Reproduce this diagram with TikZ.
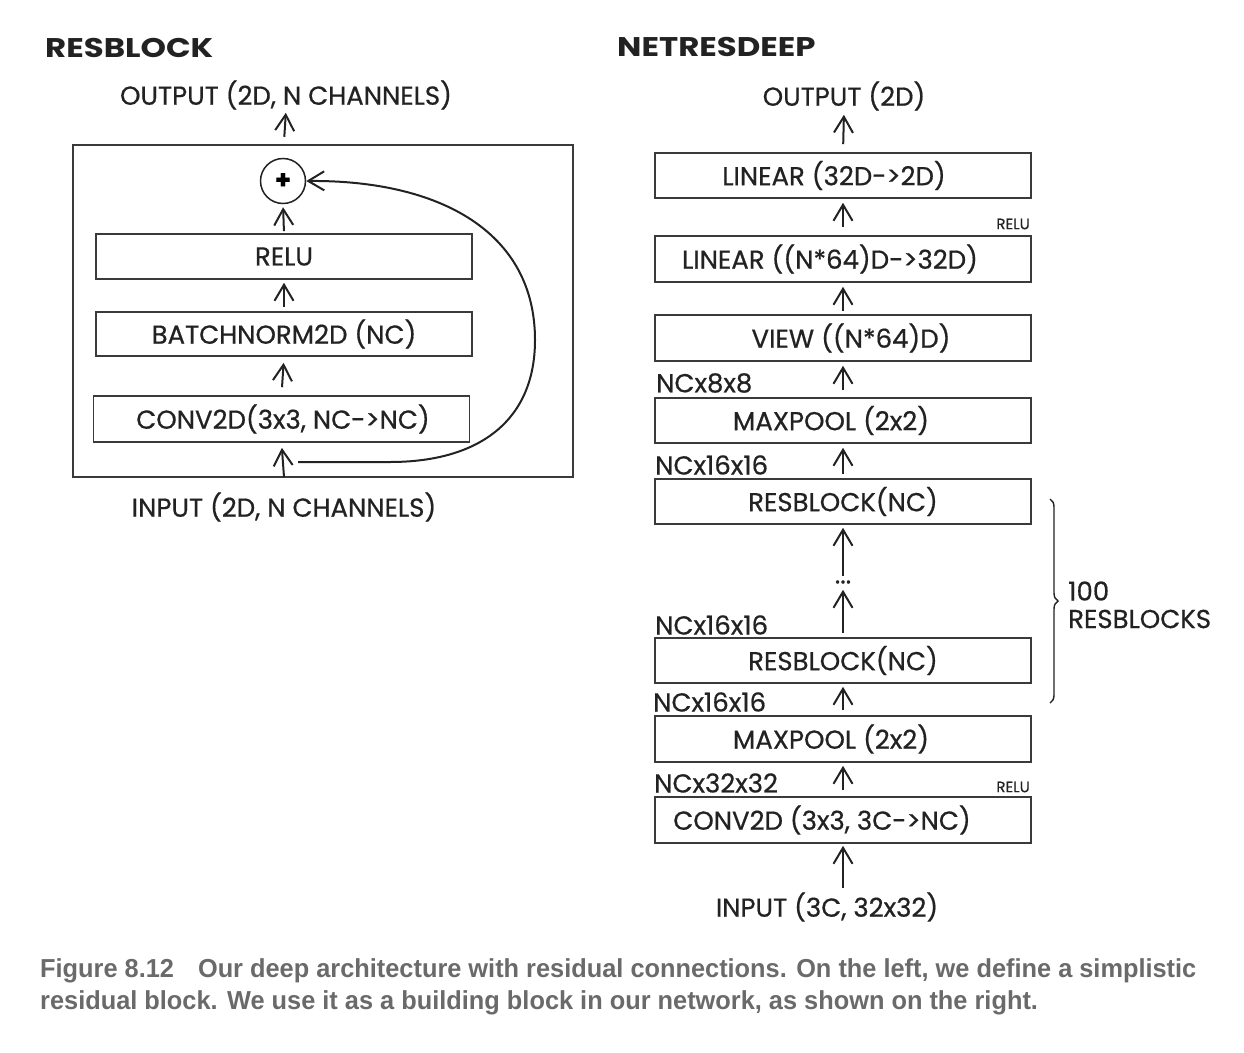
\documentclass[tikz,border=0pt]{standalone}
\usepackage{fontspec}
\setmainfont{Poppins}[FakeBold=0.6]
\newfontfamily\ttlfont[FakeStretch=1.2]{Poppins}
\newfontfamily\capfont[FakeStretch=0.975]{Liberation Sans}
\usetikzlibrary{arrows.meta,decorations.pathreplacing}
\definecolor{ink}{HTML}{222222}
\definecolor{boxline}{HTML}{3A3A3A}
\definecolor{capgray}{HTML}{6A6A6A}
\newcommand\offtext[2]{\makebox[0pt][c]{\hspace*{#1}\hspace*{#1}#2}}
\begin{document}
\begin{tikzpicture}[x=1pt,y=-1pt,
  lbl/.style={font=\fontsize{26}{30}\selectfont, text=ink, inner sep=0pt},
  ttl/.style={font=\ttlfont\bfseries\fontsize{27}{31}\selectfont, text=ink, inner sep=0pt},
  small/.style={font=\fontsize{15}{17}\selectfont, text=ink, inner sep=0pt},
  layer/.style={draw=boxline, line width=1.6pt, minimum width=376pt, minimum height=45pt, inner sep=0pt, font=\fontsize{26}{30}\selectfont, text=ink},
  frame/.style={draw=boxline, line width=1.8pt, inner sep=0pt},
  arr/.style={draw=ink, line width=2pt, -{Straight Barb[length=16pt,width=19pt,line width=2pt]}},
  captext/.style={font=\capfont\bfseries\fontsize{26}{30}\selectfont, text=capgray, inner sep=0pt, anchor=west}
]
\useasboundingbox (0,0) rectangle (1244,1052);

% ---------------- left: RESBLOCK ----------------
\node[ttl, anchor=west] (ttlL) at (45,48) {RESBLOCK};
\node[lbl] (outL) at (286,95) {OUTPUT (2D, N CHANNELS)};
\node[frame, minimum width=500pt, minimum height=332pt] (frameL) at (323,311) {};
\node[draw=ink, line width=1.5pt, circle, minimum size=45pt, inner sep=0pt, font=\fontsize{26}{28}\selectfont\bfseries] (plus) at (283,181) {+};
\node[layer] (relu) at (284,256.5) {RELU};
\node[layer, minimum height=44pt] (bn) at (284,334) {BATCHNORM2D (NC)};
\node[layer, minimum height=46pt] (convL) at (281.5,419) {\offtext{1.5pt}{CONV2D(3x3, NC->NC)}};
\node[lbl] (inL) at (284,507) {INPUT (2D, N CHANNELS)};
\coordinate (inTail) at (284,477);
\coordinate (skipStart) at (298,462);

\draw[arr, shorten <=21pt, shorten >=3pt] (plus.north) -- (outL.south);
\draw[arr, shorten <=2pt, shorten >=3pt] (relu.north) -- (plus.south);
\draw[arr, shorten <=4pt, shorten >=3pt] (bn.north) -- (relu.south);
\draw[arr, shorten <=8pt, shorten >=6pt] (convL.north) -- (bn.south);
\draw[arr, shorten >=5pt] (inTail) -- (convL.south);
\draw[arr] (skipStart) -- (390,462) .. controls (480,462) and (535,420) .. (535,340)
  .. controls (535,232) and (440,180) .. (plus.east);

% ---------------- right: NETRESDEEP ----------------
\node[ttl, anchor=west] (ttlR) at (617,47) {NETRESDEEP};
\node[lbl] (outR) at (844,96) {OUTPUT (2D)};
\node[layer] (b1) at (843,175.5) {\offtext{-9pt}{LINEAR (32D->2D)}};
\node[layer, minimum height=46pt] (b2) at (843,259) {\offtext{-13pt}{LINEAR ((N*64)D->32D)}};
\node[layer, minimum height=46pt] (b3) at (843,338) {\offtext{8pt}{VIEW ((N*64)D)}};
\node[layer] (b4) at (843,420.5) {\offtext{-12pt}{MAXPOOL (2x2)}};
\node[layer] (b5) at (843,501.5) {RESBLOCK(NC)};
\node[lbl] (dots) at (843,582) {...};
\node[layer] (b6) at (843,660.5) {RESBLOCK(NC)};
\node[layer, minimum height=46pt] (b7) at (843,739) {\offtext{-12pt}{MAXPOOL (2x2)}};
\node[layer, minimum height=46pt] (b8) at (843,820) {\offtext{-21pt}{CONV2D (3x3, 3C->NC)}};
\node[lbl] (inR) at (827,907) {INPUT (3C, 32x32)};

\node[lbl, anchor=west] (s1) at (656,383) {NCx8x8};
\node[lbl, anchor=west] (s2) at (655,465) {NCx16x16};
\node[lbl, anchor=west] (s3) at (655,625) {NCx16x16};
\node[lbl, anchor=west] (s4) at (653,702) {NCx16x16};
\node[lbl, anchor=west] (s5) at (654,783) {NCx32x32};
\node[small, anchor=east] (r1) at (1030,224) {RELU};
\node[small, anchor=east] (r2) at (1030,787) {RELU};

\draw[arr, shorten <=8pt, shorten >=4pt] (b1.north) -- (outR.south);
\draw[arr, shorten <=8pt, shorten >=4pt] (b2.north) -- (b1.south);
\draw[arr, shorten <=3pt, shorten >=4pt] (b3.north) -- (b2.south);
\draw[arr, shorten <=7pt, shorten >=4pt] (b4.north) -- (b3.south);
\draw[arr, shorten <=4pt, shorten >=4pt] (b5.north) -- (b4.south);
\draw[arr, shorten <=4pt, shorten >=3pt] (dots.north) -- (b5.south);
\draw[arr, shorten <=4pt, shorten >=6pt] (b6.north) -- (dots.south);
\draw[arr, shorten <=5pt, shorten >=3pt] (b7.north) -- (b6.south);
\draw[arr, shorten <=6pt, shorten >=3pt] (b8.north) -- (b7.south);
\draw[arr, shorten <=4pt, shorten >=2pt] (b8.south |- inR.north) -- (b8.south);

\coordinate (brT) at (1050,499);
\coordinate (brB) at (1050,703);
\draw[draw=ink, line width=1.4pt, decorate, decoration={brace, amplitude=8pt}] (brT) -- (brB);
\node[lbl, anchor=west] (n100) at (1068,591) {100};
\node[lbl, anchor=west] (nres) at (1068,619) {RESBLOCKS};

% ---------------- caption ----------------
\node[captext] (cap1) at (40,971) {Figure 8.12\hspace{24pt}Our deep architecture with residual connections. On the left, we define a simplistic};
\node[captext] (cap2) at (40,1003) {residual block. We use it as a building block in our network, as shown on the right.};
\end{tikzpicture}
\end{document}
